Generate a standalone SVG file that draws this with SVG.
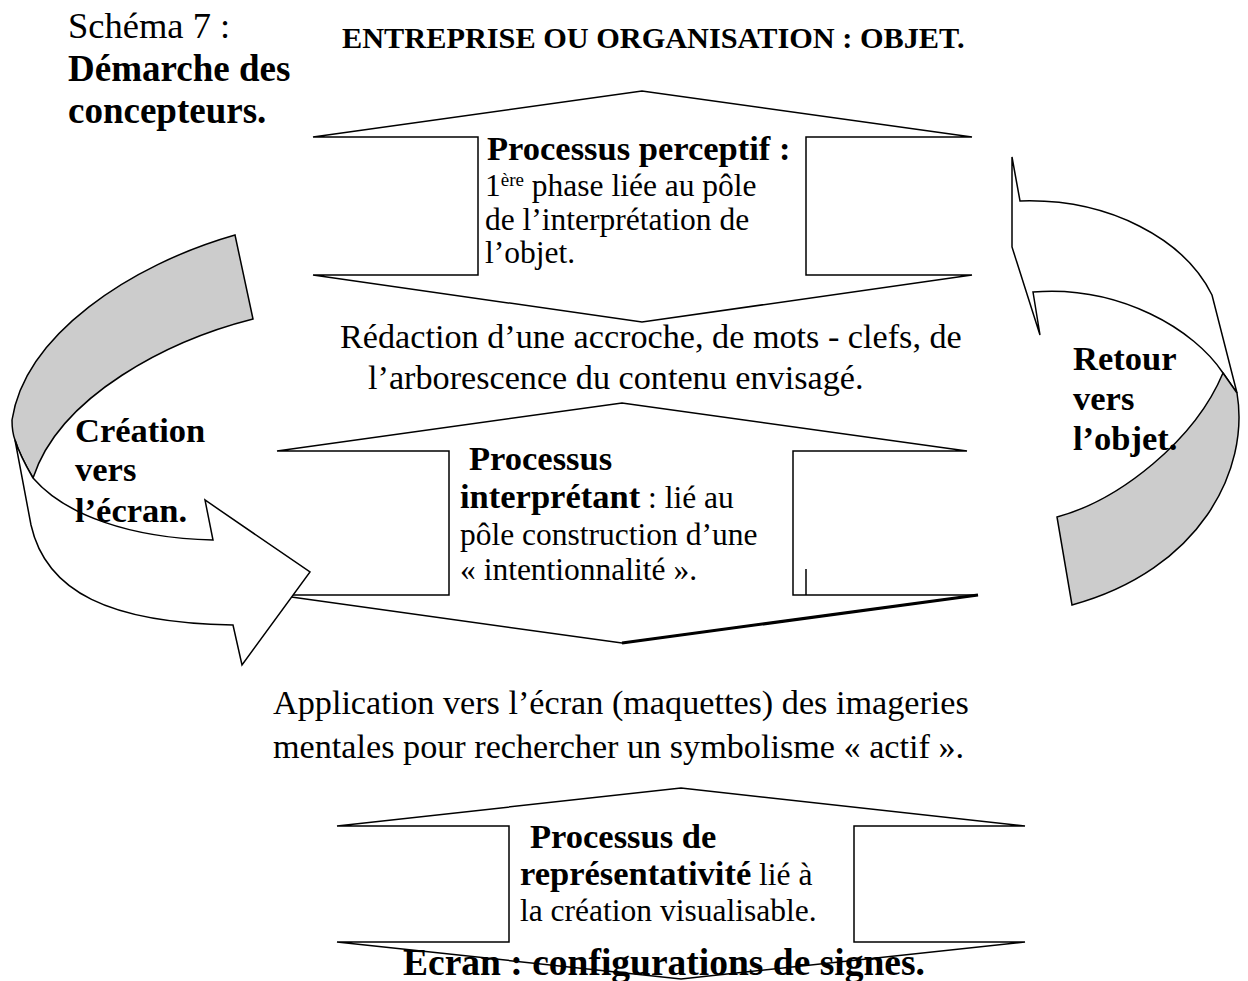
<svg xmlns="http://www.w3.org/2000/svg" width="1248" height="981" viewBox="0 0 1248 981">
<style>
text{font-family:"Liberation Serif","Times New Roman",serif;fill:#000}
.t{font-size:34.2px}
.b{font-size:34.5px;font-weight:bold}
.bx{font-size:31.5px}
.shape{fill:#fff;stroke:#000;stroke-width:1.5;stroke-linejoin:miter}
.grey{fill:#cccccc;stroke:#000;stroke-width:1.5}
</style>
<rect width="1248" height="981" fill="#fff"/>
<g id="title">
<text x="68" y="38" style="font-size:36.5px">Schéma 7 :</text>
<text x="68" y="81" style="font-size:37px;font-weight:bold">Démarche des</text>
<text x="68" y="123" style="font-size:37px;font-weight:bold">concepteurs.</text>
<text x="342" y="48" style="font-size:30.3px;font-weight:bold">ENTREPRISE OU ORGANISATION : OBJET.</text>
</g>
<g id="node-perceptif">
<path class="shape" d="M313,137 L642,91 L972,137 L806,137 L806,275 L972,275 L642,322 L313,275 L478,275 L478,137 Z"/>
<text x="487" y="160" class="b">Processus perceptif :</text>
<text x="485" y="196" class="bx">1<tspan style="font-size:19px" dy="-10">ère</tspan><tspan dy="10"> phase liée au pôle</tspan></text>
<text x="485" y="229.5" class="bx">de l’interprétation de</text>
<text x="485" y="263" class="bx">l’objet.</text>
</g>
<g id="label-redaction">
<text x="340" y="348" class="t">Rédaction d’une accroche, de mots - clefs, de</text>
<text x="368" y="389" class="t">l’arborescence du contenu envisagé.</text>
</g>
<g id="node-interpretant">
<path class="shape" d="M277,451 L622,403 L967,451 L793,451 L793,595 L978,595 L622,643 L277,595 L449,595 L449,451 Z"/>
<line x1="978" y1="595" x2="622" y2="643" stroke="#000" stroke-width="3"/>
<line x1="806" y1="569" x2="806" y2="595" stroke="#000" stroke-width="1.5"/>
<text x="469" y="470" class="b">Processus</text>
<text x="460" y="508" class="b">interprétant<tspan class="bx" style="font-weight:normal"> : lié au</tspan></text>
<text x="460" y="545" class="bx">pôle construction d’une</text>
<text x="460" y="580" class="bx">« intentionnalité ».</text>
</g>
<g id="label-application">
<text x="273" y="714" class="t">Application vers l’écran (maquettes) des imageries</text>
<text x="273" y="758" class="t">mentales pour rechercher un symbolisme « actif ».</text>
</g>
<g id="node-representativite">
<path class="shape" d="M337,826 L681,788 L1025,826 L854,826 L854,942 L1025,942 L681,979 L337,942 L509,942 L509,826 Z"/>
<text x="530" y="848" class="b">Processus de</text>
<text x="520" y="885" class="b">représentativité<tspan class="bx" style="font-weight:normal"> lié à</tspan></text>
<text x="520" y="921" class="bx">la création visualisable.</text>
<text x="403" y="975" style="font-size:37.5px;font-weight:bold">Ecran : configurations de signes.</text>
</g>
<g id="connectors">
<g id="arrow-creation">
<path class="grey" d="M235,235 L253,319 C170,340 60,395 33,478 C26,466 19,453 15,440 Q12,432 12,420 C25,335 130,265 235,235 Z"/>
<path class="shape" d="M15,440 L31,525 C46,592 110,623 233,625 L242,665 L310,572 L205,500 L213,540 C130,538 65,515 33,478 C26,466 19,453 15,440 Z"/>
</g>
<g id="arrow-retour">
<path class="shape" d="M1012,157 L1020,201 C1110,198 1185,240 1212,295 L1237,393 L1223,373 C1195,330 1120,285 1033,292 L1040,335 L1012,247 Z"/>
<path class="grey" d="M1223,373 L1237,393 C1250,470 1200,570 1072,605 L1057,517 C1120,500 1195,440 1223,373 Z"/>
</g>
</g>
<g id="label-creation">
<text x="75" y="442" class="b">Création</text>
<text x="75" y="481" class="b">vers</text>
<text x="75" y="522" class="b">l’écran.</text>
</g>
<g id="label-retour">
<text x="1073" y="370" class="b">Retour</text>
<text x="1073" y="410" class="b">vers</text>
<text x="1073" y="450" class="b">l’objet.</text>
</g>
</svg>
